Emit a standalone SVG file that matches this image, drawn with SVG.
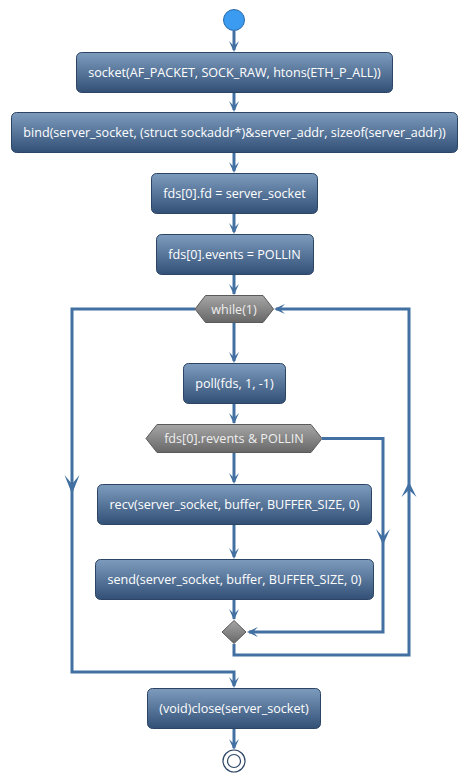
<svg xmlns="http://www.w3.org/2000/svg" width="467" height="782" viewBox="0 0 467 782">
<defs>
<linearGradient id="gb" x1="0" y1="0" x2="0" y2="1">
<stop offset="0" stop-color="#7d9cbd"/>
<stop offset="1" stop-color="#324f76"/>
</linearGradient>
<linearGradient id="gg" x1="0" y1="0" x2="0" y2="1">
<stop offset="0" stop-color="#a6a6a6"/>
<stop offset="1" stop-color="#676767"/>
</linearGradient>
</defs>
<style>
.box{fill:url(#gb);stroke:#2c4565;stroke-width:1}
.hex{fill:url(#gg);stroke:#5a5a5a;stroke-width:1}
.t{font-family:"Open Sans","Noto Sans",sans-serif;font-size:12.6px;fill:#ffffff;text-anchor:middle}
.th{font-family:"Open Sans","Noto Sans",sans-serif;font-size:12.6px;fill:#eeeeee;text-anchor:middle}
.ln{fill:none;stroke:#4270a2;stroke-width:3}
.ah{fill:#4270a2;stroke:none}
</style>
<g id="start"><circle cx="234" cy="20" r="10.5" fill="#3a9bf0" stroke="#2c6aa8" stroke-width="1"/></g>
<g id="n1"><rect class="box" x="76.5" y="52.5" width="316" height="40" rx="5"/><text class="t" x="234.5" y="77">socket(AF_PACKET, SOCK_RAW, htons(ETH_P_ALL))</text></g>
<g id="n2"><rect class="box" x="11.5" y="112.5" width="446" height="40" rx="5"/><text class="t" x="234.5" y="137">bind(server_socket, (struct sockaddr*)&amp;server_addr, sizeof(server_addr))</text></g>
<g id="n3"><rect class="box" x="151.5" y="173.5" width="166" height="40" rx="5"/><text class="t" x="234.5" y="198">fds[0].fd = server_socket</text></g>
<g id="n4"><rect class="box" x="156.5" y="234.5" width="157" height="40" rx="5"/><text class="t" x="234.5" y="259">fds[0].events = POLLIN</text></g>
<g id="while"><polygon class="hex" points="195,309 205.5,295.5 263,295.5 273.5,309 263,322.5 205.5,322.5"/><text class="th" x="234" y="313.5">while(1)</text></g>
<g id="n5"><rect class="box" x="183.5" y="363.5" width="102" height="40" rx="5"/><text class="t" x="234.5" y="388">poll(fds, 1, -1)</text></g>
<g id="if"><polygon class="hex" points="146,438.5 157,424.5 311,424.5 322,438.5 311,452.5 157,452.5"/><text class="th" x="234" y="443">fds[0].revents &amp; POLLIN</text></g>
<g id="n6"><rect class="box" x="97.5" y="484.5" width="274" height="40" rx="5"/><text class="t" x="234.5" y="509">recv(server_socket, buffer, BUFFER_SIZE, 0)</text></g>
<g id="n7"><rect class="box" x="95.5" y="559.5" width="278" height="40" rx="5"/><text class="t" x="234.5" y="584">send(server_socket, buffer, BUFFER_SIZE, 0)</text></g>
<g id="merge"><polygon class="hex" points="234,620.5 246,632 234,643.5 222,632"/></g>
<g id="n8"><rect class="box" x="147.5" y="688.5" width="173" height="40" rx="5"/><text class="t" x="234" y="713">(void)close(server_socket)</text></g>
<g id="end"><circle cx="234" cy="761" r="11" fill="none" stroke="#2c4565" stroke-width="1.2"/><circle cx="234" cy="761" r="6.5" fill="none" stroke="#2c4565" stroke-width="1.2"/></g>
<g id="connectors">
<path class="ln" d="M234,31 V50"/>
<path class="ln" d="M234,93 V110"/>
<path class="ln" d="M234,153 V171"/>
<path class="ln" d="M234,214 V232"/>
<path class="ln" d="M234,275 V294"/>
<path class="ln" d="M234,323 V361"/>
<path class="ln" d="M234,404 V423"/>
<path class="ln" d="M234,453 V482"/>
<path class="ln" d="M234,525 V557"/>
<path class="ln" d="M234,600 V619"/>
<path class="ln" d="M234,729 V748"/>
<path class="ln" d="M195,309 H72 V672 H234 V686"/>
<path class="ln" d="M234,644 V655 H409 V309 H276"/>
<path class="ln" d="M322,438.5 H383 V632 H249"/>
<polygon class="ah" points="229,41 234,52 239,41 234,46"/>
<polygon class="ah" points="229,101 234,112 239,101 234,106"/>
<polygon class="ah" points="229,162 234,173 239,162 234,167"/>
<polygon class="ah" points="229,223 234,234 239,223 234,228"/>
<polygon class="ah" points="229,284 234,295 239,284 234,289"/>
<polygon class="ah" points="229,352 234,363 239,352 234,357"/>
<polygon class="ah" points="229,413 234,424 239,413 234,418"/>
<polygon class="ah" points="229,473 234,484 239,473 234,478"/>
<polygon class="ah" points="229,548 234,559 239,548 234,553"/>
<polygon class="ah" points="229,609 234,620 239,609 234,614"/>
<polygon class="ah" points="229,677 234,688 239,677 234,682"/>
<polygon class="ah" points="229,739 234,750 239,739 234,744"/>
<polygon class="ah" points="285,304 274,309 285,314 280,309"/>
<polygon class="ah" points="258,627 247,632 258,637 253,632"/>
<polygon class="ah" points="64.5,475 72,494 79.5,475 72,484"/>
<polygon class="ah" points="401.5,497 409,482 416.5,497 409,490"/>
<polygon class="ah" points="376,529 383,545 390,529 383,537"/>
</g>
</svg>
